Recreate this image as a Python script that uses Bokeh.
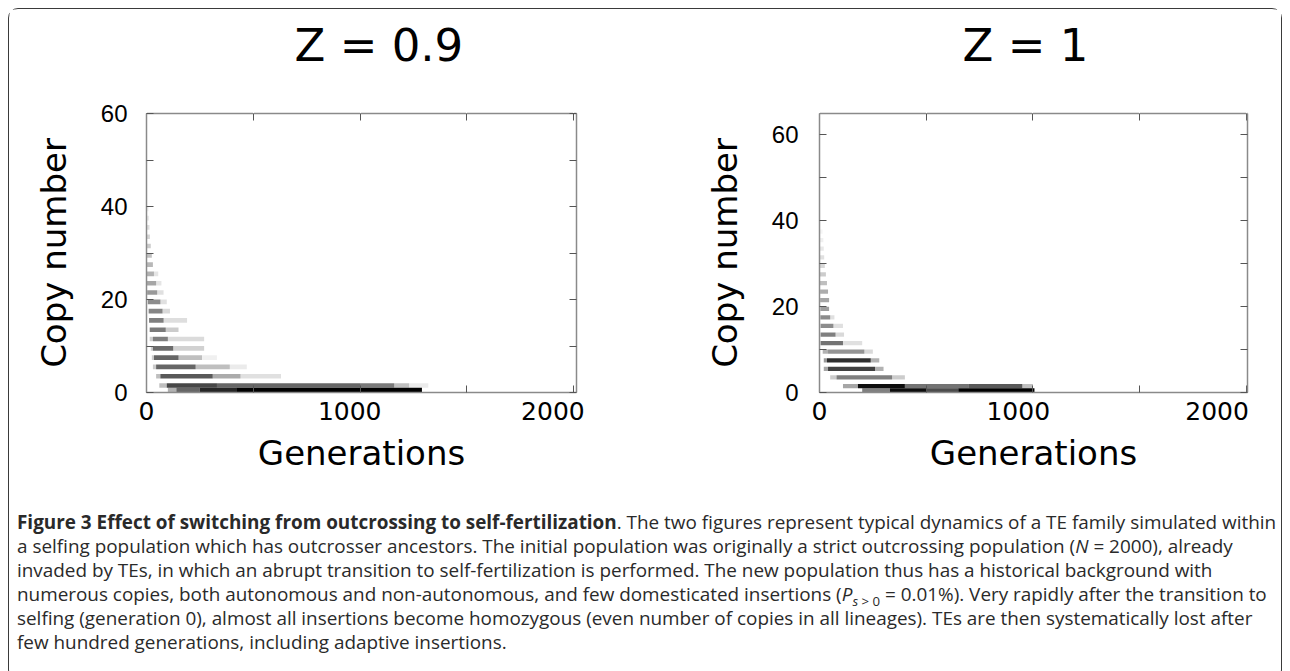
from bokeh.plotting import figure
from bokeh.models import LinearAxis, Range1d, FixedTicker, Div, ColumnDataSource
from bokeh.layouts import column, row
from bokeh.embed import file_html
from bokeh.resources import INLINE

# ---------------- data ----------------
TITLES = ["Z = 0.9", "Z = 1"]
X_TICKS = [0, 500, 1000, 1500, 2000]
X_TICK_LABELS = [0, 1000, 2000]
Y_TICKS = [0, 10, 20, 30, 40, 50, 60]
Y_LABEL_HIDDEN = {10: "", 30: "", 50: ""}
X_LABEL = "Generations"
Y_LABEL = "Copy number"

# Z = 0.9 : copy-number row, generation start, generation end, darkness
L_row = [0, 0, 0, 0,
         1, 1, 1, 1, 1, 1,
         3, 3, 3, 3,
         5, 5, 5, 5,
         7, 7, 7, 7,
         9, 9, 9,
         11, 11, 11,
         13, 13, 15, 15, 17, 17, 19, 19, 21, 21, 23, 23, 25, 25,
         27, 29, 31, 33, 35, 37, 39]
L_g0 = [100, 140, 250, 420,
        60, 95, 330, 1000, 1160, 1230,
        45, 65, 310, 440,
        30, 45, 230, 390,
        25, 35, 150, 260,
        20, 30, 125,
        15, 30, 100,
        15, 90, 12, 80, 10, 75, 6, 65, 3, 50, 2, 45, 0, 35,
        0, 0, 0, 0, 0, 0, 0]
L_g1 = [140, 250, 420, 1290,
        95, 330, 1000, 1160, 1230, 1320,
        65, 310, 440, 630,
        45, 230, 390, 470,
        35, 150, 260, 330,
        30, 125, 270,
        30, 100, 270,
        90, 150, 80, 190, 75, 110, 65, 95, 50, 80, 45, 70, 35, 55,
        30, 25, 20, 16, 14, 12, 10]
L_dark = [0.3, 0.6, 0.85, 1.0,
          0.25, 0.72, 0.6, 0.52, 0.25, 0.08,
          0.25, 0.65, 0.33, 0.12,
          0.2, 0.6, 0.25, 0.08,
          0.2, 0.6, 0.25, 0.06,
          0.2, 0.58, 0.18,
          0.2, 0.5, 0.14,
          0.52, 0.2, 0.5, 0.13, 0.48, 0.15, 0.45, 0.12, 0.4, 0.12, 0.35, 0.1, 0.3, 0.1,
          0.28, 0.24, 0.2, 0.16, 0.12, 0.08, 0.05]

# Z = 1
R_row = [0, 0, 0, 0,
         1, 1, 1, 1, 1,
         3, 3, 3,
         5, 5, 5,
         7, 7, 7,
         9, 9, 9,
         11, 11, 13, 13, 15, 15, 17, 17,
         19, 21, 23, 25, 27, 29, 31, 33, 35, 37]
R_g0 = [200, 330, 500, 650,
        110, 180, 400, 700, 950,
        50, 80, 340,
        20, 40, 260,
        20, 35, 240,
        15, 40, 210,
        5, 110, 5, 75, 5, 65, 4, 50,
        4, 3, 3, 2, 2, 0, 0, 0, 0, 0]
R_g1 = [330, 500, 650, 1007,
        180, 400, 700, 950, 1000,
        80, 340, 400,
        40, 260, 300,
        35, 240, 280,
        40, 210, 250,
        110, 200, 75, 115, 65, 110, 50, 70,
        45, 45, 40, 35, 30, 25, 22, 20, 18, 15]
R_dark = [0.5, 0.95, 0.7, 1.0,
          0.35, 0.95, 0.55, 0.65, 0.25,
          0.2, 0.5, 0.2,
          0.35, 0.75, 0.3,
          0.4, 0.82, 0.3,
          0.3, 0.42, 0.15,
          0.55, 0.12, 0.5, 0.15, 0.45, 0.12, 0.45, 0.12,
          0.38, 0.35, 0.32, 0.25, 0.2, 0.15, 0.12, 0.09, 0.06, 0.04]

CAPTION_LINES = [
    "<b>Figure 3 Effect of switching from outcrossing to self-fertilization</b>. The two figures represent typical dynamics of a TE family simulated within",
    "a selfing population which has outcrosser ancestors. The initial population was originally a strict outcrossing population (<i>N</i> = 2000), already",
    "invaded by TEs, in which an abrupt transition to self-fertilization is performed. The new population thus has a historical background with",
    "numerous copies, both autonomous and non-autonomous, and few domesticated insertions (<i>P</i><sub style='font-size:0.7em;line-height:0'><i>s</i> &gt; 0</sub> = 0.01%). Very rapidly after the transition to",
    "selfing (generation 0), almost all insertions become homozygous (even number of copies in all lineages). TEs are then systematically lost after",
    "few hundred generations, including adaptive insertions.",
]

FRAME = "#8a8a8a"
TICK = "#555555"


def mirror_axis(ticks, reserve=0):
    # visible tick marks are inward minor ticks; the major ticks are white (invisible on the
    # white border) and only reserve room outside the frame; no tick labels are drawn
    return LinearAxis(ticker=FixedTicker(ticks=ticks, minor_ticks=ticks),
                      major_tick_in=0, major_tick_out=reserve, major_tick_line_color="white",
                      minor_tick_in=7, minor_tick_out=0, minor_tick_line_color=TICK,
                      minor_tick_line_width=1,
                      major_label_text_color=None, major_label_text_font_size="1px",
                      major_label_standoff=0,
                      axis_line_color=FRAME, axis_line_width=1.5)


def panel(title, rows, g0, g1, dark, width, xmax, ymax, borders, label_range,
          title_offset, ystand, ylab_stand):
    bl, br, bt, bb = borders
    p = figure(width=width, height=496, x_range=Range1d(0, xmax), y_range=Range1d(0, ymax),
               output_backend="svg", toolbar_location=None,
               x_axis_location=None, y_axis_location=None,
               min_border_left=bl, min_border_right=br, min_border_top=bt, min_border_bottom=bb,
               outline_line_color=None, background_fill_color="white", border_fill_color="white")
    p.xgrid.visible = False
    p.ygrid.visible = False
    p.extra_x_ranges = {"lab": Range1d(*label_range)}

    p.title.text = title
    p.title.align = "left"
    p.title.offset = title_offset
    p.title.standoff = 2
    p.title.text_font = "DejaVu Sans"
    p.title.text_font_size = "45px"
    p.title.text_font_style = "normal"
    p.title.text_color = "black"

    src = ColumnDataSource(dict(left=g0, right=g1, bottom=rows,
                                top=[r + 1 for r in rows], alpha=dark))
    p.quad(left="left", right="right", bottom="bottom", top="top", source=src,
           fill_color="black", fill_alpha="alpha", line_color=None)

    # bottom: tick marks only
    p.add_layout(mirror_axis(X_TICKS), "below")
    # bottom: tick labels + axis label
    xl = LinearAxis(x_range_name="lab", ticker=FixedTicker(ticks=X_TICK_LABELS),
                    axis_line_color=None, major_tick_line_color=None, minor_tick_line_color=None,
                    major_tick_in=0, major_tick_out=0, major_label_standoff=9,
                    major_label_text_font="DejaVu Sans", major_label_text_font_size="25px",
                    major_label_text_color="black",
                    axis_label=X_LABEL, axis_label_text_font="DejaVu Sans",
                    axis_label_text_font_size="34px", axis_label_text_font_style="normal",
                    axis_label_text_color="black", axis_label_standoff=10)
    p.add_layout(xl, "below")
    # top: mirror ticks, reserving space under the title
    p.add_layout(mirror_axis(X_TICKS, reserve=41), "above")
    yl = LinearAxis(ticker=FixedTicker(ticks=Y_TICKS), major_tick_in=7, major_tick_out=0,
                    minor_tick_line_color=None, axis_line_color=FRAME, axis_line_width=1.5,
                    major_tick_line_color=TICK, major_tick_line_width=1,
                    major_label_overrides=Y_LABEL_HIDDEN, major_label_standoff=ystand,
                    major_label_text_font="Liberation Sans", major_label_text_font_size="24px",
                    major_label_text_color="black",
                    axis_label=Y_LABEL, axis_label_text_font="DejaVu Sans",
                    axis_label_text_font_size="34px", axis_label_text_font_style="normal",
                    axis_label_text_color="black", axis_label_standoff=ylab_stand)
    p.add_layout(yl, "left")
    p.add_layout(mirror_axis(Y_TICKS), "right")
    return p


p1 = panel(TITLES[0], L_row, L_g0, L_g1, L_dark, 640, 2014, 60,
           (137, 73, 104, 113), (0, 2116), 148, 19, 24)
p2 = panel(TITLES[1], R_row, R_g0, R_g1, R_dark, 632, 2005, 65,
           (170, 34, 104, 113), (0, 2153), 143, 21, 24)

cap_html = ("<div style=\"font-family:'Open Sans',sans-serif;font-size:18.9px;line-height:24px;"
            "color:#2a2a2a;white-space:nowrap;padding-left:3px;\">"
            + "<br>".join(CAPTION_LINES) + "</div>")
cap = Div(text=cap_html, width=1272, height=164, styles={"overflow": "hidden"})

layout = column(row(p1, p2), cap, width=1274,
                styles={"border": "1px solid #3a3a3a", "border-radius": "10px",
                        "margin-left": "8px", "margin-top": "8px"})

open("out.html", "w").write(file_html(layout, INLINE))
